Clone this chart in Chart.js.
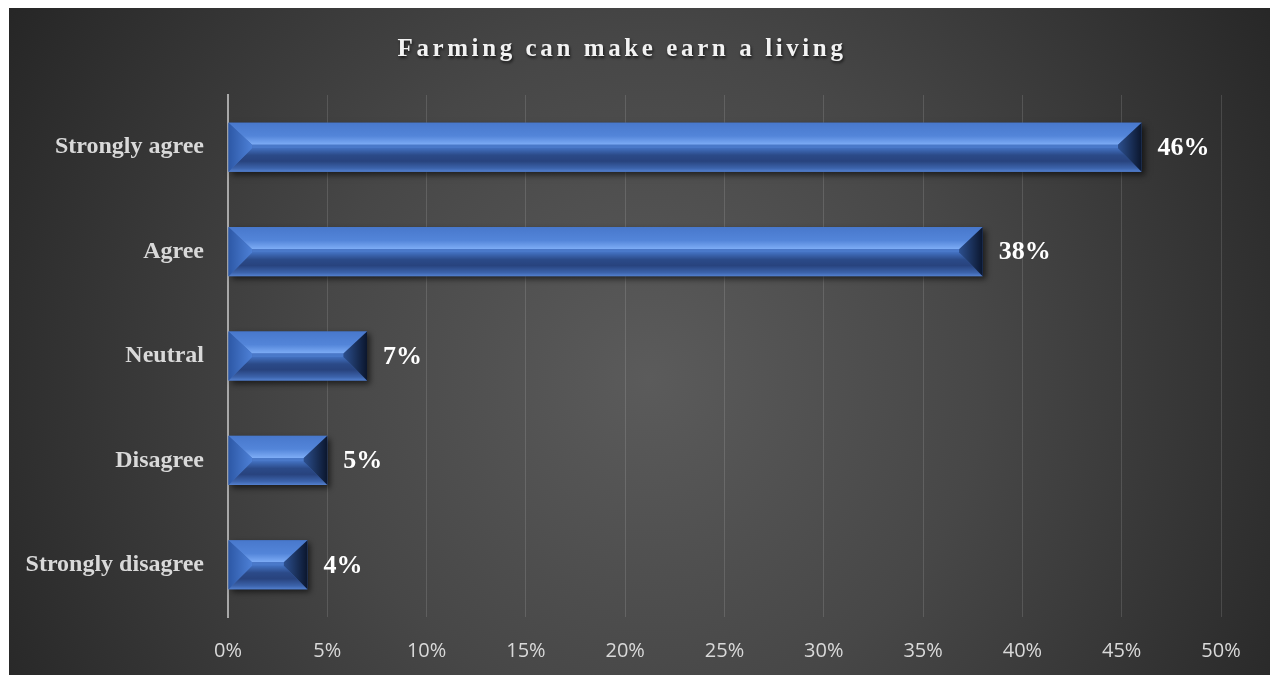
<!DOCTYPE html>
<html>
<head>
<meta charset="utf-8">
<title>Farming can make earn a living</title>
<script src="https://cdn.jsdelivr.net/npm/chart.js@4/dist/chart.umd.min.js"></script>
<style>
  html, body { margin: 0; padding: 0; background: #ffffff; }
  #wrap { position: absolute; left: 9px; top: 8px; width: 1261px; height: 667px; }
</style>
</head>
<body>
<div id="wrap"><canvas id="farmChart" width="1261" height="667"></canvas></div>
<script>
const chartTitle = "Farming can make earn a living";
const categories = ["Strongly agree", "Agree", "Neutral", "Disagree", "Strongly disagree"];
const shares = [46, 38, 7, 5, 4];
const tickValues = [0, 5, 10, 15, 20, 25, 30, 35, 40, 45, 50];

const serif = "'Liberation Serif', 'Times New Roman', serif";

// fill a closed polygon with the given style
const fillPoly = (ctx, pts, style) => {
    ctx.beginPath();
    ctx.moveTo(pts[0][0], pts[0][1]);
    for (let i = 1; i < pts.length; i++) ctx.lineTo(pts[i][0], pts[i][1]);
    ctx.closePath();
    ctx.fillStyle = style;
    ctx.fill();
};

// bar with a chiselled bevel: top, bottom, left and right facets
const drawBevelBar = (ctx, x0, x1, yT, yB) => {
    const h = yB - yT;
    const d = Math.min(h * 0.48, (x1 - x0) / 2);
    const ym1 = yT + h * 0.45;
    const ym2 = yT + h * 0.52;

    ctx.save();
    ctx.shadowColor = "rgba(0,0,0,0.6)";
    ctx.shadowBlur = 6;
    ctx.shadowOffsetX = 3;
    ctx.shadowOffsetY = 3;
    ctx.fillStyle = "#3f69b5";
    ctx.fillRect(x0, yT, x1 - x0, h);
    ctx.restore();

    let g = ctx.createLinearGradient(0, yT, 0, ym1);
    g.addColorStop(0, "#4878cc");
    g.addColorStop(0.6, "#5385d9");
    g.addColorStop(1, "#7eadf6");
    fillPoly(ctx, [[x0, yT], [x1, yT], [x1 - d, ym1], [x0 + d, ym1]], g);

    fillPoly(ctx, [[x0 + d, ym1], [x1 - d, ym1], [x1 - d, ym2], [x0 + d, ym2]], "#4a79c9");

    g = ctx.createLinearGradient(0, ym2, 0, yB);
    g.addColorStop(0, "#4270bf");
    g.addColorStop(0.3, "#2b4a88");
    g.addColorStop(0.55, "#28437e");
    g.addColorStop(0.85, "#3c63ab");
    g.addColorStop(1, "#5380cf");
    fillPoly(ctx, [[x0 + d, ym2], [x1 - d, ym2], [x1, yB], [x0, yB]], g);

    g = ctx.createLinearGradient(x0, 0, x0 + d, 0);
    g.addColorStop(0, "#2d58a6");
    g.addColorStop(1, "#4d80d6");
    fillPoly(ctx, [[x0, yT], [x0 + d, ym1], [x0 + d, ym2], [x0, yB]], g);

    g = ctx.createLinearGradient(x1 - d, 0, x1, 0);
    g.addColorStop(0, "#2c4f8e");
    g.addColorStop(1, "#0b162d");
    fillPoly(ctx, [[x1, yT], [x1 - d, ym1], [x1 - d, ym2], [x1, yB]], g);
};

// dark radial backdrop and the spaced-out title
const backdropPlugin = {
    id: "backdrop",
    beforeDraw: (chart) => {
        const { ctx, width, height } = chart;
        const g = ctx.createRadialGradient(640, 370, 0, 640, 370, 740);
        g.addColorStop(0, "#5b5b5b");
        g.addColorStop(0.45, "#474747");
        g.addColorStop(1, "#262626");
        ctx.save();
        ctx.fillStyle = g;
        ctx.fillRect(0, 0, width, height);

        ctx.font = "bold 25px " + serif;
        ctx.letterSpacing = "3.6px";
        ctx.textAlign = "center";
        ctx.textBaseline = "alphabetic";
        ctx.shadowColor = "rgba(0,0,0,0.7)";
        ctx.shadowBlur = 3;
        ctx.shadowOffsetX = 1;
        ctx.shadowOffsetY = 2;
        ctx.fillStyle = "#f2f2f2";
        ctx.fillText(chartTitle, 613, 48);
        ctx.restore();
    }
};

// bevelled bars plus their value labels
const bevelBarsPlugin = {
    id: "bevelBars",
    afterDatasetsDraw: (chart) => {
        const ctx = chart.ctx;
        const meta = chart.getDatasetMeta(0);
        ctx.save();
        meta.data.forEach((bar) => {
            const p = bar.getProps(["x", "y", "base", "height"], true);
            drawBevelBar(ctx, p.base, p.x, p.y - p.height / 2, p.y + p.height / 2);
        });
        ctx.font = "bold 26px " + serif;
        ctx.fillStyle = "#ffffff";
        ctx.textAlign = "left";
        ctx.textBaseline = "middle";
        meta.data.forEach((bar, i) => {
            const p = bar.getProps(["x", "y"], true);
            ctx.fillText(shares[i] + "%", p.x + 16, p.y + 1);
        });
        ctx.restore();
    }
};

const farmChart = new Chart(document.getElementById("farmChart"), {
    type: "bar",
    data: {
        labels: categories,
        datasets: [{
            data: shares,
            backgroundColor: "rgba(0,0,0,0)",
            borderWidth: 0,
            categoryPercentage: 1,
            barPercentage: 0.47
        }]
    },
    options: {
        indexAxis: "y",
        responsive: false,
        devicePixelRatio: 1,
        animation: false,
        layout: { padding: { top: 87, right: 49, left: 0, bottom: 0 } },
        plugins: {
            legend: { display: false },
            tooltip: { enabled: false }
        },
        scales: {
            x: {
                min: 0,
                max: 50,
                afterBuildTicks: (scale) => {
                    scale.ticks = tickValues.map(v => ({ value: v }));
                },
                afterFit: (scale) => { scale.height = 58; },
                grid: { color: "rgba(255,255,255,0.13)", lineWidth: 1, drawTicks: false },
                border: { display: false },
                ticks: {
                    callback: (v) => v + "%",
                    color: "#d9d9d9",
                    font: { family: "'Open Sans', sans-serif", size: 20 },
                    padding: 22,
                    maxRotation: 0
                }
            },
            y: {
                afterFit: (scale) => { scale.width = 219; },
                grid: { display: false, drawTicks: false },
                border: { color: "#a8a8a8", width: 2 },
                ticks: {
                    color: "#d9d9d9",
                    font: { family: serif, size: 24, weight: "bold" },
                    padding: 24
                }
            }
        }
    },
    plugins: [backdropPlugin, bevelBarsPlugin]
});
</script>
</body>
</html>
